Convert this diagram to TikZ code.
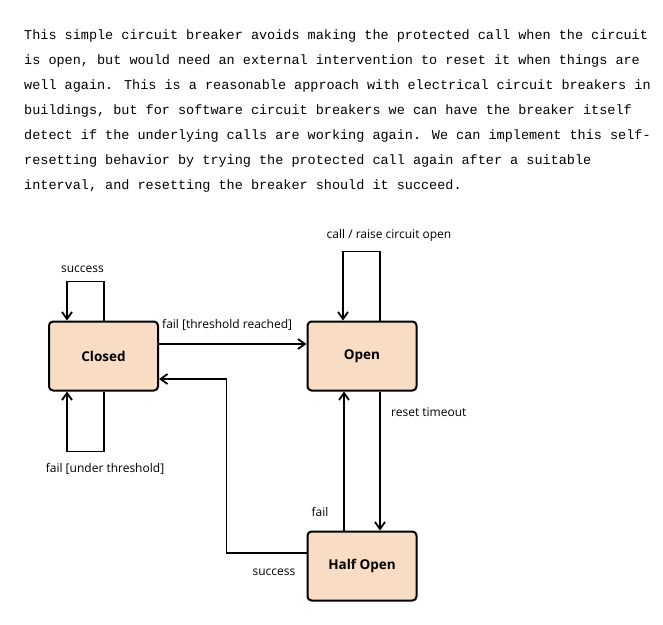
\documentclass[tikz,border=0pt]{standalone}
\usepackage{fontspec}
\setmainfont{Open Sans}
\newfontfamily\paramono{Liberation Mono}
\usetikzlibrary{arrows.meta}
\definecolor{peach}{HTML}{F9DCC4}
\tikzset{
  state/.style={draw=black, line width=2pt, rounded corners=4pt, fill=peach,
    minimum width=109pt, minimum height=69pt, inner sep=0pt,
    font=\fontsize{13.5}{16}\selectfont\bfseries},
  conn/.style={draw=black, line width=1.8pt, -{Straight Barb[length=7pt,width=10pt,line width=1.8pt]}},
  lbl/.style={font=\fontsize{12}{14}\selectfont, inner sep=0pt, text=black},
  para/.style={font=\paramono\fontsize{13.5}{16}\selectfont, anchor=base west, inner sep=0pt, text=black}
}
\begin{document}
\begin{tikzpicture}[x=1pt,y=-1pt]
\useasboundingbox (0,0) rectangle (663,624);
% paragraph
\node[para] (p1) at (24,39) {This simple circuit breaker avoids making the protected call when the circuit};
\node[para] (p2) at (24,64) {is open, but would need an external intervention to reset it when things are};
\node[para] (p3) at (24,89) {well again. This is a reasonable approach with electrical circuit breakers in};
\node[para] (p4) at (24,114) {buildings, but for software circuit breakers we can have the breaker itself};
\node[para] (p5) at (24,139) {detect if the underlying calls are working again. We can implement this self-};
\node[para] (p6) at (24,164) {resetting behavior by trying the protected call again after a suitable};
\node[para] (p7) at (24,189) {interval, and resetting the breaker should it succeed.};
% states
\node[state] (closed) at (103.5,356) {Closed};
\node[state] (open) at (362,356) {Open};
\node[state] (half) at (362,566) {Half Open};
% self loops
\draw[conn] ([xshift=0.5pt]closed.north) -- ++(0,-39) -| ([xshift=-36.5pt]closed.north);
\draw[conn] ([xshift=0.5pt]closed.south) -- ++(0,60) -| ([xshift=-36.5pt]closed.south);
\draw[conn] ([xshift=18pt]open.north) -- ++(0,-69) -| ([xshift=-19pt]open.north);
% transitions
\draw[conn] ([yshift=12pt]closed.east) -- ([yshift=12pt]open.west);
\draw[conn] ([yshift=13pt]half.west) -- ++(-80,0) |- ([yshift=-23pt]closed.east);
\draw[conn] ([xshift=18pt]open.south) -- ([xshift=18pt]half.north);
\draw[conn] ([xshift=-18pt]half.north) -- ([xshift=-18pt]open.south);
% labels
\node[lbl] (l1) at (82.5,269) {success};
\node[lbl] (l2) at (105,469) {fail [under threshold]};
\node[lbl] (l3) at (389,235) {call / raise circuit open};
\node[lbl, anchor=west] (l4) at (162,325) {fail [threshold reached]};
\node[lbl, anchor=west] (l5) at (391,412) {reset timeout};
\node[lbl] (l6) at (320,512) {fail};
\node[lbl] (l7) at (274,572) {success};
\end{tikzpicture}
\end{document}
